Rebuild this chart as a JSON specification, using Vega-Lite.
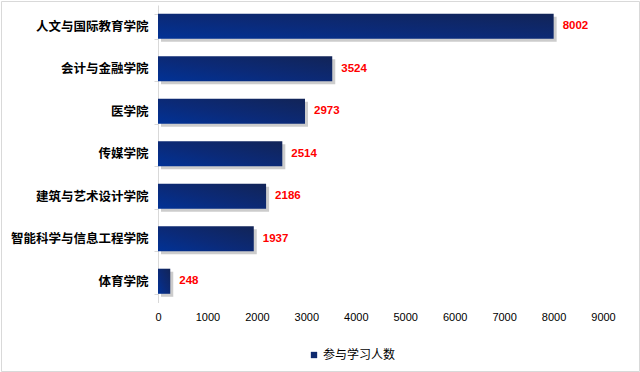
{
  "$schema": "https://vega.github.io/schema/vega-lite/v6.json",
  "width": 638,
  "height": 370,
  "padding": 1,
  "autosize": {"type": "none"},
  "background": "white",
  "config": {
    "view": {"stroke": "#d9d9d9", "strokeWidth": 1},
    "font": "Noto Sans CJK SC"
  },
  "data": {
    "values": [
      {"college": "人文与国际教育学院", "count": 8002},
      {"college": "会计与金融学院", "count": 3524},
      {"college": "医学院", "count": 2973},
      {"college": "传媒学院", "count": 2514},
      {"college": "建筑与艺术设计学院", "count": 2186},
      {"college": "智能科学与信息工程学院", "count": 1937},
      {"college": "体育学院", "count": 248}
    ]
  },
  "encoding": {
    "y": {
      "field": "college",
      "type": "nominal",
      "sort": null,
      "scale": {"range": [4, 301.5], "paddingInner": 0.41, "paddingOuter": 0.205},
      "axis": {
        "title": null,
        "offset": -157,
        "domainColor": "#d9d9d9",
        "tickColor": "#d9d9d9",
        "tickSize": 4,
        "tickBand": "extent",
        "labelFont": "Noto Sans CJK SC",
        "labelFontWeight": "bold",
        "labelFontSize": 12.5,
        "labelColor": "#000000",
        "labelPadding": 6
      }
    },
    "x": {
      "field": "count",
      "type": "quantitative",
      "scale": {"domain": [0, 9000], "range": [157, 602], "nice": false},
      "axis": {
        "title": null,
        "offset": -68.5,
        "domain": false,
        "ticks": false,
        "grid": false,
        "labelFlush": false,
        "values": [0, 1000, 2000, 3000, 4000, 5000, 6000, 7000, 8000, 9000],
        "format": "d",
        "labelFont": "Liberation Sans",
        "labelFontSize": 11,
        "labelColor": "#000000",
        "labelPadding": 9
      }
    }
  },
  "layer": [
    {
      "mark": {"type": "bar", "fill": "#808080", "opacity": 0.4, "xOffset": 3, "yOffset": 3}
    },
    {
      "mark": {
        "type": "bar",
        "fill": {
          "gradient": "linear",
          "x1": 0, "y1": 1, "x2": 1, "y2": 0,
          "stops": [
            {"offset": 0, "color": "#013296"},
            {"offset": 0.45, "color": "#0b2a78"},
            {"offset": 1, "color": "#122457"}
          ]
        }
      }
    },
    {
      "mark": {
        "type": "text",
        "align": "left",
        "baseline": "middle",
        "dx": 9,
        "font": "Liberation Sans",
        "fontWeight": "bold",
        "fontSize": 11.5,
        "fill": "#ff0000"
      },
      "encoding": {"text": {"field": "count", "type": "quantitative", "format": "d"}}
    },
    {
      "mark": {"type": "square", "opacity": 0},
      "encoding": {
        "color": {
          "datum": "参与学习人数",
          "scale": {"range": ["#0f2a6e"]},
          "legend": {
            "title": null,
            "orient": "none",
            "legendX": 307,
            "legendY": 348,
            "symbolType": "square",
            "symbolSize": 40,
            "symbolOpacity": 1,
            "symbolFillColor": "#0f2a6e",
            "labelFont": "Noto Sans CJK SC",
            "labelFontSize": 12,
            "labelColor": "#000000",
            "labelOffset": 3
          }
        }
      }
    }
  ]
}
